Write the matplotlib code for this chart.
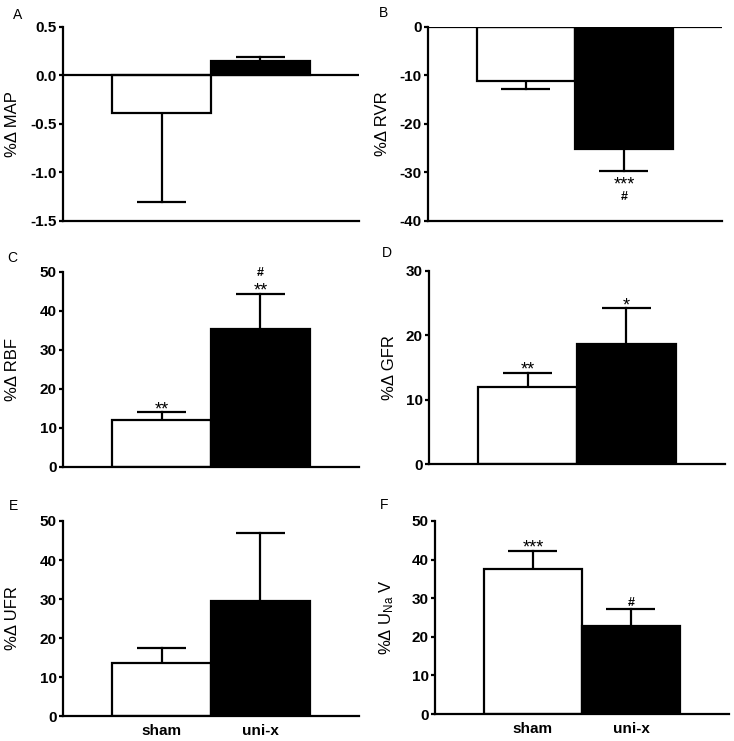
import matplotlib
matplotlib.use("Agg")
from matplotlib import pyplot as plt
import numpy as np

plt.rcParams['font.family'] = ['Liberation Sans', 'DejaVu Sans']
plt.rcParams['mathtext.default'] = 'regular'

groups = ['sham', 'uni-x']

map_mean = [-0.39, 0.15]
map_err = [0.91, 0.04]
rvr_mean = [-11.1, -25.2]
rvr_err = [1.7, 4.4]
rbf_mean = [12.0, 35.5]
rbf_err = [2.0, 8.9]
gfr_mean = [12.0, 18.6]
gfr_err = [2.1, 5.6]
ufr_mean = [13.5, 29.6]
ufr_err = [4.0, 17.2]
una_mean = [37.5, 22.8]
una_err = [4.8, 4.3]

# significance marks per bar (sham, uni-x), listed from the bar outward
map_sig = [[], []]
rvr_sig = [[], ['***', '#']]
rbf_sig = [['**'], ['**', '#']]
gfr_sig = [['**'], ['*']]
ufr_sig = [[], []]
una_sig = [['***'], ['#']]

panels = [
    ('A', '%Δ MAP', map_mean, map_err, map_sig, (-1.5, 0.5), [-1.5, -1.0, -0.5, 0.0, 0.5], '%.1f'),
    ('B', '%Δ RVR', rvr_mean, rvr_err, rvr_sig, (-40, 0), [-40, -30, -20, -10, 0], '%d'),
    ('C', '%Δ RBF', rbf_mean, rbf_err, rbf_sig, (0, 50), [0, 10, 20, 30, 40, 50], '%d'),
    ('D', '%Δ GFR', gfr_mean, gfr_err, gfr_sig, (0, 30), [0, 10, 20, 30], '%d'),
    ('E', '%Δ UFR', ufr_mean, ufr_err, ufr_sig, (0, 50), [0, 10, 20, 30, 40, 50], '%d'),
    ('F', '%Δ U$_{Na}$ V', una_mean, una_err, una_sig, (0, 50), [0, 10, 20, 30, 40, 50], '%d'),
]

# axes boxes in figure fraction
boxes = [
    [0.0858, 0.7018, 0.4033, 0.2618],
    [0.5831, 0.7018, 0.4005, 0.2618],
    [0.0858, 0.3698, 0.4033, 0.2632],
    [0.5845, 0.3738, 0.4033, 0.2605],
    [0.0858, 0.0337, 0.4033, 0.2632],
    [0.5926, 0.0364, 0.4005, 0.2605],
]
letter_pos = [(-0.152, 1.062), (-0.153, 1.072), (-0.172, 1.072),
              (-0.142, 1.093), (-0.166, 1.077), (-0.173, 1.083)]
ylabel_x = [-0.172, -0.156, -0.172, -0.135, -0.169, -0.163]

# glyph geometry of the marks (size pt, weight, bottom/top of glyph above baseline in em)
mark_style = {'*': (13, 'normal', 0.26, 0.72), '#': (9, 'bold', 0.0, 0.70)}

fig = plt.figure(figsize=(7.34, 7.41), dpi=100)
lw = 1.6
x = np.array([1, 2])
px = 0.72  # points per pixel at dpi 100

for i, (letter, ylab, mean, err, sig, ylim, ticks, fmt) in enumerate(panels):
    ax = fig.add_axes(boxes[i])
    ax.bar(x, mean, width=1.0, color=['white', 'black'], edgecolor='black',
           linewidth=lw, zorder=2)
    for xi, m, e in zip(x, mean, err):
        tip = m + e if m >= 0 else m - e
        ax.plot([xi, xi], [m, tip], color='black', lw=lw, zorder=1)
        ax.plot([xi - 0.25, xi + 0.25], [tip, tip], color='black', lw=lw,
                solid_capstyle='butt', zorder=1)
    for xi, m, e, marks in zip(x, mean, err, sig):
        up = m >= 0
        tip = m + e if up else m - e
        gap = 3 if up else 6
        for s in marks:
            size, weight, lo, hi = mark_style[s[0]]
            em = size / px
            if up:
                dy = gap - lo * em
            else:
                dy = -gap - hi * em
            ax.annotate(s, (xi, tip), xytext=(0, dy * px), textcoords='offset points',
                        ha='center', va='baseline', fontsize=size, fontweight=weight)
            gap += 15
    if ylim[0] < 0:
        ax.axhline(0, color='black', lw=lw, zorder=3)
    ax.set_xlim(0, 3)
    ax.set_ylim(*ylim)
    ax.set_yticks(ticks)
    ax.set_yticklabels([fmt % t for t in ticks], fontsize=11, fontweight='bold')
    for side in ['top', 'right']:
        ax.spines[side].set_visible(False)
    ax.spines['left'].set_linewidth(lw)
    ax.spines['bottom'].set_linewidth(lw)
    ax.tick_params(axis='y', length=3, width=lw, pad=1.5)
    if letter in ('E', 'F'):
        ax.set_xticks(x)
        ax.set_xticklabels(groups, fontsize=11, fontweight='bold')
        ax.tick_params(axis='x', length=0, pad=6)
    else:
        ax.set_xticks([])
    ax.set_ylabel(ylab, fontsize=12)
    ax.yaxis.label.set_verticalalignment('center')
    ax.yaxis.set_label_coords(ylabel_x[i], 0.5)
    ax.text(letter_pos[i][0], letter_pos[i][1], letter, transform=ax.transAxes,
            ha='center', va='center', fontsize=10)

fig.savefig('out.png', dpi=100, facecolor='white')
